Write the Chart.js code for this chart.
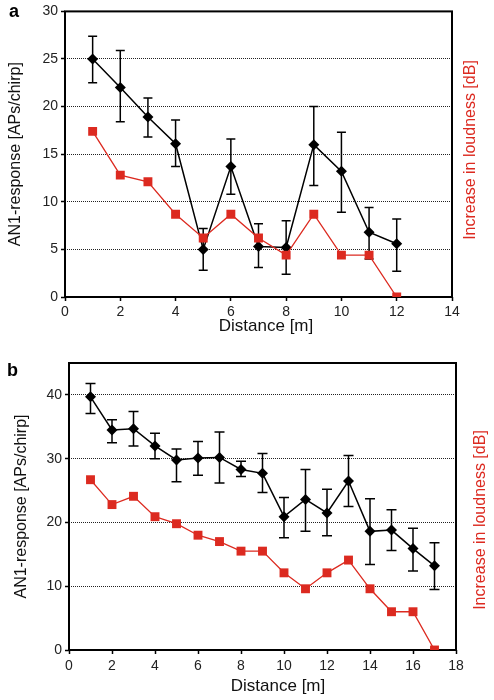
<!DOCTYPE html>
<html>
<head>
<meta charset="utf-8">
<script src="https://cdn.jsdelivr.net/npm/chart.js@4.4.1/dist/chart.umd.min.js"></script>
<style>
  body { margin: 0; background: #fff; }
  .panel { position: absolute; left: 0; }
</style>
</head>
<body>
<div class="panel" style="top:0"><canvas id="chartA" width="494" height="340"></canvas></div>
<div class="panel" style="top:340px"><canvas id="chartB" width="494" height="360"></canvas></div>
<script>
// Panel a: jarak 1-12 m
const distA = [1, 2, 3, 4, 5, 6, 7, 8, 9, 10, 11, 12];
const respA = [25.0, 22.0, 18.9, 16.1, 5.0, 13.7, 5.3, 5.2, 16.0, 13.2, 6.8, 5.6];
const respHiA = [27.4, 25.9, 20.9, 18.6, 7.2, 16.6, 7.7, 8.0, 20.0, 17.3, 9.4, 8.2];
const respLoA = [22.5, 18.4, 16.8, 13.7, 2.8, 10.8, 3.1, 2.4, 11.7, 8.9, 4.0, 2.7];
const loudA = [17.4, 12.8, 12.1, 8.7, 6.2, 8.7, 6.2, 4.4, 8.7, 4.4, 4.4, 0];

// Panel b: jarak 1-17 m
const distB = [1, 2, 3, 4, 5, 6, 7, 8, 9, 10, 11, 12, 13, 14, 15, 16, 17];
const respB = [39.7, 34.5, 34.7, 32.0, 29.8, 30.1, 30.2, 28.3, 27.7, 20.9, 23.6, 21.5, 26.5, 18.6, 18.8, 15.9, 13.2];
const respHiB = [41.8, 36.1, 37.4, 34.0, 31.5, 32.7, 34.2, 29.6, 30.8, 23.9, 28.3, 25.2, 30.5, 23.7, 22.0, 19.1, 16.8];
const respLoB = [37.1, 32.5, 32.0, 30.0, 26.4, 27.4, 26.2, 27.2, 24.7, 17.6, 18.6, 17.9, 22.5, 13.4, 15.6, 12.4, 9.5];
const loudB = [26.7, 22.8, 24.1, 20.9, 19.8, 18.0, 17.0, 15.5, 15.5, 12.1, 9.6, 12.1, 14.1, 9.6, 6.0, 6.0, 0];

const RED = '#dc2a20';
const FONT = 'Liberation Sans, Arial, Helvetica, sans-serif';

// Bingkai + error bar digambar sebelum dataset, teks tambahan sesudahnya.
const panelPlugin = {
    id: 'panelDecor',
    beforeDatasetsDraw(chart, args, opts) {
        const { ctx, chartArea: a, scales: { x, y } } = chart;
        ctx.save();
        ctx.strokeStyle = '#000';
        ctx.lineWidth = 1.5;
        ctx.beginPath();
        opts.dist.forEach((d, i) => {
            const px = x.getPixelForValue(d);
            const top = y.getPixelForValue(opts.hi[i]);
            const bot = y.getPixelForValue(opts.lo[i]);
            ctx.moveTo(px, top); ctx.lineTo(px, bot);
            ctx.moveTo(px - opts.cap, top); ctx.lineTo(px + opts.cap, top);
            ctx.moveTo(px - opts.cap, bot); ctx.lineTo(px + opts.cap, bot);
        });
        ctx.stroke();
        ctx.lineWidth = 2;
        ctx.strokeRect(a.left, a.top, a.right - a.left, a.bottom - a.top);
        ctx.restore();
    },
    afterDraw(chart, args, opts) {
        const { ctx } = chart;
        ctx.save();
        ctx.fillStyle = '#000';
        ctx.font = 'bold 18px ' + FONT;
        ctx.textAlign = 'left';
        ctx.textBaseline = 'alphabetic';
        ctx.fillText(opts.letter, opts.letterX, opts.letterY);
        // judul sumbu x
        ctx.fillStyle = '#111';
        ctx.font = '17px ' + FONT;
        ctx.textAlign = 'center';
        ctx.textBaseline = 'middle';
        ctx.fillText('Distance [m]', opts.xTitleX, opts.xTitleY);
        // judul sumbu kanan (merah), dibaca dari bawah ke atas
        ctx.translate(opts.rightX, opts.rightY);
        ctx.rotate(-Math.PI / 2);
        ctx.fillStyle = RED;
        ctx.font = '16px ' + FONT;
        ctx.fillText('Increase in loudness [dB]', 0, 0);
        ctx.restore();
    }
};

function makePanel(canvas, p) {
    return new Chart(canvas.getContext('2d'), {
        type: 'line',
        data: {
            labels: p.dist,
            datasets: [
                {
                    label: 'Increase in loudness',
                    data: p.dist.map((d, i) => ({ x: d, y: p.loud[i] })),
                    borderColor: RED,
                    backgroundColor: RED,
                    borderWidth: 1.3,
                    pointStyle: 'rect',
                    pointRadius: 6.3,
                    pointBorderWidth: 0,
                    tension: 0
                },
                {
                    label: 'AN1-response',
                    data: p.dist.map((d, i) => ({ x: d, y: p.resp[i] })),
                    borderColor: '#000',
                    backgroundColor: '#000',
                    borderWidth: 1.5,
                    pointStyle: 'rectRot',
                    pointRadius: 5.5,
                    pointBorderWidth: 0,
                    tension: 0
                }
            ]
        },
        options: {
            responsive: false,
            animation: false,
            devicePixelRatio: 1,
            layout: { padding: { top: p.padTop, left: 0, right: 0, bottom: 0 } },
            plugins: {
                legend: { display: false },
                tooltip: { enabled: false },
                panelDecor: {
                    dist: p.dist, hi: p.hi, lo: p.lo, cap: p.cap,
                    letter: p.letter, letterX: p.letterX, letterY: p.letterY,
                    rightX: p.rightX, rightY: p.rightY,
                    xTitleX: p.xTitleX, xTitleY: p.xTitleY
                }
            },
            scales: {
                x: {
                    type: 'linear',
                    min: 0, max: p.xMax,
                    afterFit: s => { s.height = p.xHeight; },
                    ticks: { stepSize: 2, color: '#222', font: { family: FONT, size: 14 }, padding: p.xTickPad, maxRotation: 0 },
                    grid: { drawOnChartArea: false, tickLength: 4, tickColor: '#000', tickWidth: 1.5 },
                    border: { display: false }
                },
                y: {
                    min: 0, max: p.yMax,
                    afterFit: s => { s.width = p.yWidth; },
                    afterBuildTicks: s => { s.ticks = s.ticks.filter(t => t.value % p.yStep === 0); },
                    ticks: { stepSize: p.yStep, color: '#222', font: { family: FONT, size: 14 }, padding: 3 },
                    grid: {
                        color: c => (c.tick && c.tick.value > 0 && c.tick.value < p.yMax) ? '#222' : 'rgba(0,0,0,0)',
                        lineWidth: 1, tickLength: 4, tickColor: '#000', tickWidth: 1.5
                    },
                    border: { display: false, dash: [1, 1] },
                    title: {
                        display: true, text: 'AN1-response [APs/chirp]', color: '#111',
                        font: { family: FONT, size: 16 }, padding: { top: p.yTitlePad, bottom: 0 }
                    }
                },
                y2: {
                    position: 'right',
                    min: 0, max: p.yMax,
                    afterFit: s => { s.width = p.y2Width; },
                    ticks: { display: false },
                    grid: { display: false },
                    border: { display: false }
                }
            }
        },
        plugins: [panelPlugin]
    });
}

makePanel(document.getElementById('chartA'), {
    dist: distA, resp: respA, hi: respHiA, lo: respLoA, loud: loudA,
    xMax: 14, yMax: 30, yStep: 5, cap: 4.5,
    padTop: 10, xHeight: 43, yWidth: 65, y2Width: 42,
    xTickPad: 3, yTitlePad: 6,
    letter: 'a', letterX: 9, letterY: 17, rightX: 471, rightY: 150,
    xTitleX: 266, xTitleY: 326
});

makePanel(document.getElementById('chartB'), {
    dist: distB, resp: respB, hi: respHiB, lo: respLoB, loud: loudB,
    xMax: 18, yMax: 45, yStep: 10, cap: 5,
    padTop: 23, xHeight: 50, yWidth: 69, y2Width: 38,
    xTickPad: 4, yTitlePad: 12,
    letter: 'b', letterX: 7, letterY: 36, rightX: 481, rightY: 180,
    xTitleX: 278, xTitleY: 346
});
</script>
</body>
</html>
